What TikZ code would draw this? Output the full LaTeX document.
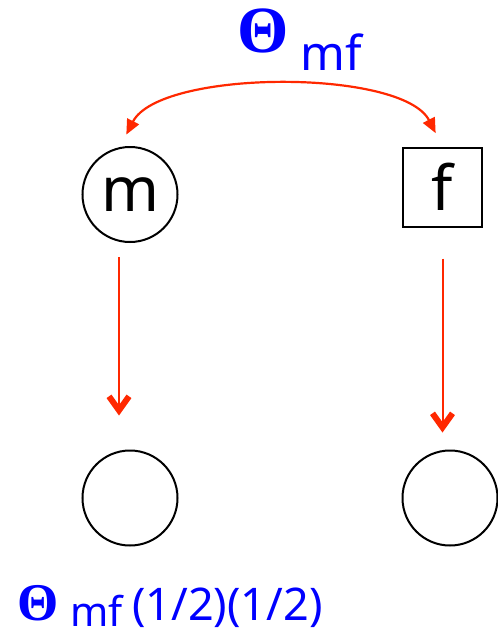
\documentclass[tikz,border=0pt]{standalone}
\usepackage{fontspec}
\setmainfont{Noto Sans}
\newfontfamily\grec{Liberation Serif}
\usetikzlibrary{arrows.meta}
\definecolor{rouge}{RGB}{255,40,0}
\definecolor{bleu}{RGB}{0,0,255}

\begin{document}
\begin{tikzpicture}[x=1pt,y=-1pt]
		\tikzstyle{cercle} = [circle,draw,line width=2pt,minimum size=95pt,inner sep=0pt,font=\fontsize{62}{62}\selectfont]
		\tikzstyle{carre} = [rectangle,draw,line width=2pt,minimum size=79pt,inner sep=0pt,font=\fontsize{62}{62}\selectfont]
		\tikzstyle{fleche} = [-{Straight Barb[length=14pt,width=20pt,line width=6pt 0]},draw=rouge,line width=2pt]
		\tikzstyle{double} = [{Triangle[length=15pt,width=13pt]}-{Triangle[length=15pt,width=13pt]},draw=rouge,line width=2.2pt]
		\tikzstyle{texte} = [text=bleu,inner sep=0pt,anchor=base west]
		
		\useasboundingbox (0,0) rectangle (498,638);
		
		\node[cercle](m) at (130,194.5) {m};
		\node[carre](f) at (442.5,187) {f};
		
		\node[cercle](c1) at (130,498) {};
		\node[cercle](c2) at (450,498) {};
		
		\node[texte,font=\grec\bfseries\fontsize{66}{66}\selectfont](theta) at (237,52) {Θ};
		\node[texte,font=\fontsize{48}{48}\selectfont](mf) at (300,70) {mf};
		
		\node[texte,font=\grec\bfseries\fontsize{53}{53}\selectfont](theta2) at (17,620) {Θ};
		\node[texte,text depth=0pt,font=\fontsize{41}{41}\selectfont](mf2) at (70,626) {mf};
		\node[texte,font=\fontsize{45}{45}\selectfont](demi) at (132,620) {(1/2)(1/2)};
		
		\draw[double,shorten <=14pt,shorten >=15pt] (m.102) .. controls +(40,-78) and +(-40,-78) .. (f.north);
		\draw[fleche,shorten <=14pt,shorten >=34pt] ([xshift=-11pt]m.south) -- ([xshift=-11pt]c1.north);
		\draw[fleche,shorten <=31pt,shorten >=17pt] (f.south) -- (f.south |- c2.north);
		\end{tikzpicture}
\end{document}
